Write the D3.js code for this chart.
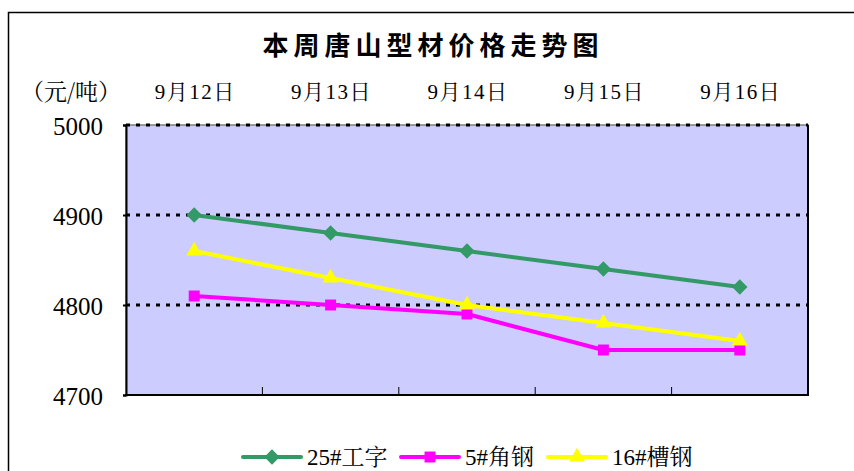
<!DOCTYPE html>
<html>
<head>
<meta charset="utf-8">
<script src="https://cdn.jsdelivr.net/npm/d3@7"></script>
<style>
  html, body { margin: 0; padding: 0; background: #fff; }
  svg { display: block; }
</style>
</head>
<body>
<svg id="chart" width="854" height="471"></svg>
<script>
const categories = ["9月12日", "9月13日", "9月14日", "9月15日", "9月16日"];
const seriesNames = ["25#工字", "5#角钢", "16#槽钢"];
const gongzi25 = [4900, 4880, 4860, 4840, 4820];
const jiaogang5 = [4810, 4800, 4790, 4750, 4750];
const caogang16 = [4860, 4830, 4800, 4780, 4760];
const yTicks = [4700, 4800, 4900, 5000];

const SERIF = "'Liberation Serif', 'Noto Serif CJK SC', serif";

const series = [
  { name: seriesNames[0], values: gongzi25, color: "#339966", marker: d3.symbolDiamond2, size: 150 },
  { name: seriesNames[1], values: jiaogang5, color: "#FF00FF", marker: d3.symbolSquare, size: 120 },
  { name: seriesNames[2], values: caogang16, color: "#FFFF00", marker: d3.symbolTriangle, size: 110 }
];

const svg = d3.select("#chart");
const plot = { left: 126, top: 125, right: 808, bottom: 395 };

// outer chart frame (runs off the right and bottom of the view)
svg.append("rect")
  .attr("x", 8.5).attr("y", 12.5).attr("width", 900).attr("height", 500)
  .attr("fill", "#fff").attr("stroke", "#000").attr("stroke-width", 1.5);

// title
svg.append("text")
  .attr("x", 433).attr("y", 55)
  .attr("text-anchor", "middle")
  .style("font-family", "'Noto Sans CJK SC', sans-serif")
  .style("font-weight", "bold")
  .style("font-size", "26px")
  .style("letter-spacing", "5px")
  .text("本周唐山型材价格走势图");

const x = d3.scaleBand().domain(categories).range([plot.left, plot.right]);
const y = d3.scaleLinear().domain([4700, 5000]).range([plot.bottom, plot.top]);

// plot background
svg.append("rect")
  .attr("x", plot.left).attr("y", plot.top)
  .attr("width", plot.right - plot.left).attr("height", plot.bottom - plot.top)
  .attr("fill", "#CCCCFF").attr("stroke", "#808080").attr("stroke-width", 1.5);

// dotted gridlines
svg.append("g")
  .selectAll("line")
  .data(yTicks.filter(v => v > 4700))
  .join("line")
  .attr("x1", plot.left).attr("x2", plot.right)
  .attr("y1", d => y(d)).attr("y2", d => y(d))
  .attr("stroke", "#000").attr("stroke-width", 3)
  .attr("stroke-dasharray", "4,6");

// right edge
svg.append("line")
  .attr("x1", plot.right).attr("x2", plot.right)
  .attr("y1", plot.top).attr("y2", plot.bottom + 1)
  .attr("stroke", "#000").attr("stroke-width", 2);

// category ticks along bottom
const bounds = categories.slice(1).map(c => x(c));
svg.append("g")
  .selectAll("line")
  .data(bounds)
  .join("line")
  .attr("x1", d => d).attr("x2", d => d)
  .attr("y1", plot.bottom).attr("y2", plot.bottom - 8)
  .attr("stroke", "#000").attr("stroke-width", 1);

// y axis
const yAxis = d3.axisLeft(y).tickValues(yTicks).tickSize(3).tickPadding(20).tickFormat(d3.format("d"));
const gy = svg.append("g").attr("transform", `translate(${plot.left},0)`).call(yAxis);
gy.select(".domain").attr("stroke", "#000").attr("stroke-width", 2);
gy.selectAll(".tick line").attr("stroke", "#000").attr("stroke-width", 2);
gy.selectAll(".tick text")
  .attr("fill", "#000")
  .style("font-family", SERIF)
  .style("font-size", "25px")
  .attr("dy", "0.36em");

// bottom axis line
svg.append("line")
  .attr("x1", plot.left - 1).attr("x2", plot.right + 1)
  .attr("y1", plot.bottom).attr("y2", plot.bottom)
  .attr("stroke", "#000").attr("stroke-width", 2);

// category labels along the top
svg.append("g")
  .selectAll("text")
  .data(categories)
  .join("text")
  .attr("x", d => x(d) + x.bandwidth() / 2 + 1)
  .attr("y", 99)
  .attr("text-anchor", "middle")
  .style("font-family", SERIF)
  .style("font-size", "21px")
  .style("letter-spacing", "1.5px")
  .text(d => d);

// unit label
svg.append("text")
  .attr("x", 71).attr("y", 100)
  .attr("text-anchor", "middle")
  .style("font-family", "'Noto Serif CJK SC', serif")
  .style("font-size", "23px")
  .text("（元/吨）");

// series lines and markers
const line = d3.line()
  .x((d, i) => x(categories[i]) + x.bandwidth() / 2)
  .y(d => y(d));

series.forEach(s => {
  svg.append("path")
    .datum(s.values)
    .attr("d", line)
    .attr("fill", "none")
    .attr("stroke", s.color)
    .attr("stroke-width", 4)
    .attr("stroke-linejoin", "round");
  svg.append("g")
    .selectAll("path")
    .data(s.values)
    .join("path")
    .attr("transform", (d, i) => `translate(${x(categories[i]) + x.bandwidth() / 2},${y(d)})`)
    .attr("d", d3.symbol().type(s.marker).size(s.size))
    .attr("fill", s.color);
});

// legend
const legendItems = [
  { lx: 243, tx: 307 },
  { lx: 401, tx: 465 },
  { lx: 548, tx: 612 }
];
const legendY = 457;
series.forEach((s, i) => {
  const L = legendItems[i];
  const g = svg.append("g");
  g.append("line")
    .attr("x1", L.lx).attr("x2", L.lx + 58)
    .attr("y1", legendY).attr("y2", legendY)
    .attr("stroke", s.color).attr("stroke-width", 4).attr("stroke-linecap", "round");
  g.append("path")
    .attr("transform", `translate(${L.lx + 29},${legendY})`)
    .attr("d", d3.symbol().type(s.marker).size(s.size))
    .attr("fill", s.color);
  g.append("text")
    .attr("x", L.tx).attr("y", legendY + 8)
    .style("font-family", SERIF)
    .style("font-size", "23px")
    .text(s.name);
});
</script>
</body>
</html>
